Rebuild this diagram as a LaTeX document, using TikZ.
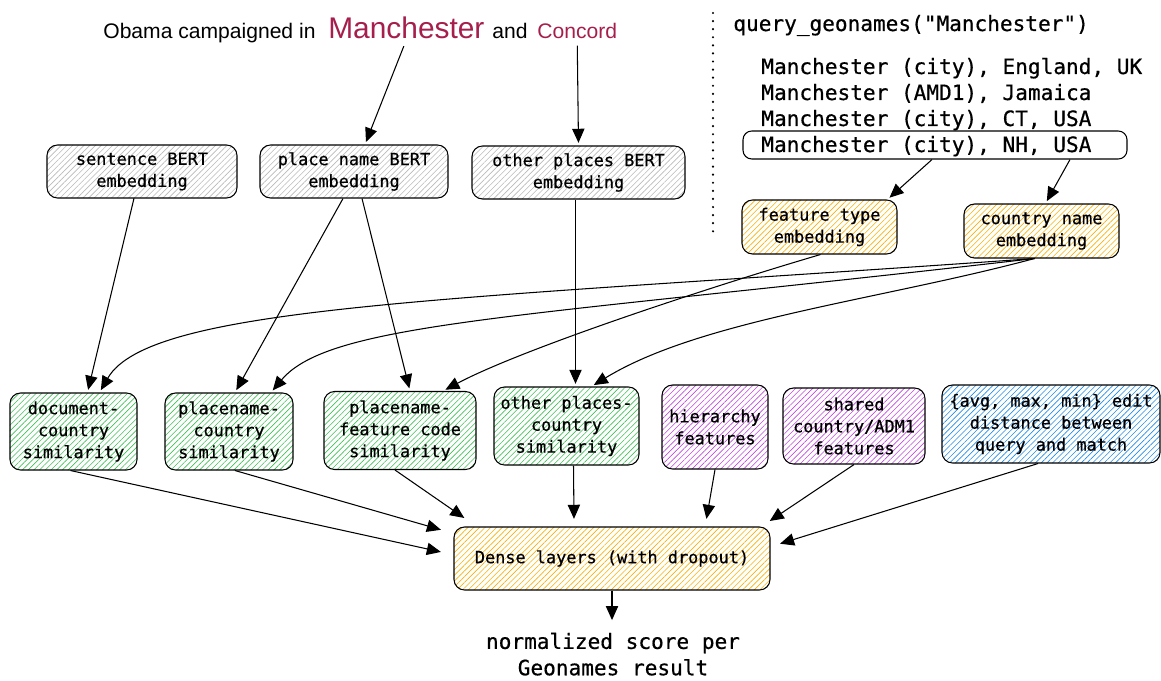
\documentclass[tikz,border=0pt]{standalone}
\usepackage{fontspec}
\setmainfont{Liberation Sans}
\setmonofont{DejaVu Sans Mono}
\newfontfamily\heavymono[FakeBold=0.6]{DejaVu Sans Mono}
\usetikzlibrary{arrows.meta,patterns.meta}
\definecolor{crim}{RGB}{166,30,77}
\definecolor{hgray}{RGB}{185,185,185}
\definecolor{hgreen}{RGB}{64,192,87}
\definecolor{horange}{RGB}{250,176,5}
\definecolor{hviolet}{RGB}{190,75,219}
\definecolor{hblue}{RGB}{34,139,230}
\newcommand{\boxfont}{\heavymono\fontsize{9.6}{12.5}\selectfont}
\newcommand{\listfont}{\heavymono\fontsize{12}{15}\selectfont}
\tikzset{hatch/.style={pattern={Lines[angle=45,distance=2.3pt,line width=0.35pt]}, pattern color=#1}}

\begin{document}
\begin{tikzpicture}[x=0.2mm,y=-0.2mm]
            \tikzstyle{every node}+=[inner sep=0pt]
            \tikzstyle{box}=[draw=black, line width=0.6pt, rounded corners=6pt, align=center, font=\boxfont]
            \tikzstyle{arr}=[black, line width=0.6pt, -{Triangle[length=8pt,width=7pt]}, shorten >=1.5pt]
            \useasboundingbox (0,0) rectangle (1161,681);
            \node [anchor=base west, font=\fontsize{12}{14}\selectfont] (obama) at (103,39) {Obama campaigned in};
            \node [anchor=base west, text=crim, font=\fontsize{17}{20}\selectfont] (manch) at (328,39) {Manchester};
            \node [anchor=base west, font=\fontsize{12}{14}\selectfont] (and) at (492,39) {and};
            \node [anchor=base west, text=crim, font=\fontsize{12}{14}\selectfont] (conc) at (537,39) {Concord};
            \node [anchor=base west, font=\listfont] (query) at (733,31) {query\_geonames("Manchester")};
            \node [anchor=base west, font=\listfont] (res1) at (761,74) {Manchester (city), England, UK};
            \node [anchor=base west, font=\listfont] (res2) at (761,100) {Manchester (AMD1), Jamaica};
            \node [anchor=base west, font=\listfont] (res3) at (761,126) {Manchester (city), CT, USA};
            \node [anchor=base west, font=\listfont] (res4) at (761,152) {Manchester (city), NH, USA};
            \node [draw=black, line width=0.6pt, rounded corners=5pt, minimum width=76.8mm, minimum height=5.6mm] (hl) at (935,145) {};
            \coordinate (dtop) at (713,13);
            \coordinate (dbot) at (713,232);
            \draw [black, line width=1.4pt, line cap=round, dash pattern=on 0pt off 4.6pt] (dtop) -- (dbot);
            \node [box, hatch=hgray, minimum width=38mm, minimum height=10.6mm] (sent) at (142,171.5) {sentence BERT\\embedding};
            \node [box, hatch=hgray, minimum width=37.6mm, minimum height=10.6mm] (pbert) at (354,171.5) {place name BERT\\embedding};
            \node [box, hatch=hgray, minimum width=42.6mm, minimum height=10.6mm] (obert) at (578.5,172.5) {other places BERT\\embedding};
            \node [box, hatch=horange, minimum width=31mm, minimum height=10.8mm] (ftype) at (819.5,227) {feature type\\embedding};
            \node [box, hatch=horange, minimum width=31mm, minimum height=10.8mm] (cname) at (1041.5,231) {country name\\embedding};
            \node [box, hatch=hgreen, minimum width=25.4mm, minimum height=15.4mm] (doc) at (73.5,431.5) {document-\\country\\similarity};
            \node [box, hatch=hgreen, minimum width=25.6mm, minimum height=15.4mm] (pcsim) at (229,431.5) {placename-\\country\\similarity};
            \node [box, hatch=hgreen, minimum width=30.4mm, minimum height=15.6mm] (pfsim) at (400,430.5) {placename-\\feature code\\similarity};
            \node [box, hatch=hgreen, minimum width=29mm, minimum height=15.6mm] (opsim) at (566.5,426) {other places-\\country\\similarity};
            \node [box, hatch=hviolet, minimum width=21.2mm, minimum height=16.8mm] (hier) at (715,427) {hierarchy\\features};
            \node [box, hatch=hviolet, minimum width=28.4mm, minimum height=15.2mm] (shared) at (854,426) {shared\\country/ADM1\\features};
            \node [box, hatch=hblue, minimum width=43.6mm, minimum height=15.6mm] (edit) at (1051,424) {\{avg, max, min\} edit\\distance between\\query and match};
            \node [box, hatch=horange, minimum width=63.2mm, minimum height=12.6mm] (dense) at (612,558.5) {Dense layers (with dropout)};
            \node [align=center, font=\listfont, text depth=0pt] (out) at (613,654) {normalized score per\\Geonames result};
            \draw [arr, shorten <=4pt] (manch.south) -- ([shift={(11,0)}]pbert.north);
            \draw [arr, shorten <=3.5pt] (conc.south) -- (obert.north);
            \draw [arr] ([shift={(-3,0)}]hl.south) -- ([shift={(68,0)}]ftype.north);
            \draw [arr] ([shift={(135,0)}]hl.south) -- ([shift={(4,0)}]cname.north);
            \draw [arr] ([shift={(-8,0)}]sent.south) -- ([shift={(14,0)}]doc.north);
            \draw [arr] ([shift={(-11,0)}]pbert.south) -- ([shift={(6,0)}]pcsim.north);
            \draw [arr] ([shift={(8,0)}]pbert.south) -- ([shift={(10,0)}]pfsim.north);
            \draw [arr] ([shift={(-3,0)}]obert.south) -- ([shift={(9,0)}]opsim.north);
            \draw [arr] ([shift={(1,0)}]ftype.south) .. controls (700,290) and (520,350) .. ([shift={(43,0)}]pfsim.north);
            \draw [arr] ([shift={(-7,0)}]cname.south) .. controls (450,300) and (150,305) .. ([shift={(26,0)}]doc.north);
            \draw [arr] ([shift={(-7,0)}]cname.south) .. controls (520,318) and (330,322) .. ([shift={(42,0)}]pcsim.north);
            \draw [arr] ([shift={(-7,0)}]cname.south) .. controls (880,300) and (700,320) .. ([shift={(25,0)}]opsim.north);
            \draw [arr] ([shift={(-3,0)}]doc.south) -- ([shift={(-10,-6)}]dense.west);
            \draw [arr] ([shift={(6,0)}]pcsim.south) -- ([shift={(-10,-28)}]dense.west);
            \draw [arr] ([shift={(-5,0)}]pfsim.south) -- ([shift={(13,-7)}]dense.north west);
            \draw [arr] ([shift={(7,0)}]opsim.south) -- ([shift={(-38,-5)}]dense.north);
            \draw [arr] (hier.south) -- ([shift={(94,-5)}]dense.north);
            \draw [arr] (shared.south) -- ([shift={(-3,-4)}]dense.north east);
            \draw [arr] ([shift={(-13,0)}]edit.south) -- ([shift={(7,-14)}]dense.east);
            \draw [arr, shorten >=7pt] (dense.south) -- (dense.south |- out.north);
\end{tikzpicture}
\end{document}
